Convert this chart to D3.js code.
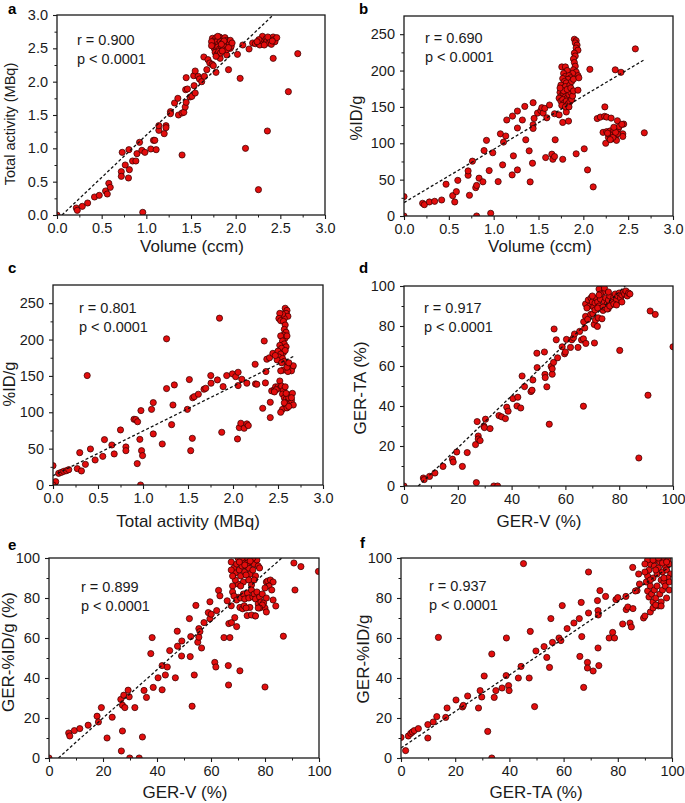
<!DOCTYPE html>
<html><head><meta charset="utf-8">
<script src="https://cdn.jsdelivr.net/npm/d3@7"></script>
<style>body{margin:0;background:#fff}svg{display:block;font-family:"Liberation Sans",Arial,sans-serif}</style>
</head><body><svg id="chart" width="685" height="803"></svg>
<script>
// ---------- tick labels ----------
const ticksMBq = [0, 0.5, 1, 1.5, 2, 2.5, 3];
const ticksIDg = [0, 50, 100, 150, 200, 250];
const ticksPct = [0, 20, 40, 60, 80, 100];

// ---------- statistics text ----------
const rValues = ["0.900", "0.690", "0.801", "0.917", "0.899", "0.937"];
const pText = "p < 0.0001";

// ---------- regression lines: [slope, intercept, xStart, xEnd] ----------
const regA = [1.269, -0.071, 0.056, 2.42];
const regB = [73.3, 18.4, 0, 2.68];
const regC = [61.4, 12.8, 0, 2.69];
const regD = [1.30, -6.9, 5.3, 82.3];
const regE = [1.209, -4.2, 3.5, 86.2];
const regF = [0.913, 5.0, 0, 99.4];

// ---------- a: Volume (ccm) vs Total activity (MBq) ----------
const pointsA = [[0,0],[0.216,0.105],[0.227,0.07],[0.283,0.13],[0.343,0.18],[0.42,0.27],[0.473,0.295],[0.544,0.36],[0.563,0.315],[0.58,0.475],[0.596,0.415],[0.72,0.65],[0.72,0.58],[0.73,0.94],[0.764,0.75],[0.80,0.555],[0.81,0.68],[0.805,0.98],[0.846,0.81],[0.883,0.81],[0.895,0.92],[0.924,1.09],[0.95,0.97],[0.984,0.94],[0.96,0.04],[1.05,0.99],[1.08,1.12],[1.095,1.12],[1.11,0.98],[1.14,1.27],[1.14,1.34],[1.20,1.22],[1.22,1.34],[1.22,1.31],[1.27,1.55],[1.27,1.52],[1.316,1.68],[1.353,1.75],[1.36,1.50],[1.40,1.53],[1.40,0.90],[1.42,1.54],[1.435,1.62],[1.44,1.88],[1.446,2.06],[1.446,1.69],[1.46,1.89],[1.49,1.77],[1.51,1.78],[1.53,2.09],[1.535,1.94],[1.547,2.16],[1.547,1.83],[1.58,2.08],[1.595,2.04],[1.62,2.00],[1.644,2.37],[1.65,2.08],[1.677,2.18],[1.69,2.33],[1.71,2.28],[1.737,2.26],[1.75,2.24],[1.78,2.14],[1.79,2.39],[1.826,2.35],[1.90,2.40],[1.92,2.18],[1.94,2.50],[2.02,2.41],[2.08,2.55],[2.05,2.05],[2.11,1.00],[2.15,2.49],[2.19,2.58],[2.255,0.38],[2.355,1.26],[2.42,2.35],[2.59,1.85],[2.695,2.42],
[1.74,2.65],[1.76,2.62],[1.78,2.66],[1.80,2.64],[1.82,2.67],[1.84,2.65],[1.86,2.63],[1.88,2.66],[1.90,2.62],[1.92,2.60],[1.75,2.58],[1.77,2.55],[1.79,2.60],[1.81,2.57],[1.83,2.60],[1.85,2.58],[1.87,2.55],[1.89,2.58],[1.91,2.55],[1.93,2.57],[1.95,2.53],[1.76,2.50],[1.78,2.47],[1.80,2.52],[1.82,2.49],[1.84,2.53],[1.86,2.50],[1.88,2.52],[1.90,2.48],[1.77,2.44],[1.79,2.41],[1.81,2.45],[1.83,2.43],[1.78,2.38],[1.85,2.46],[1.73,2.60],[1.73,2.54],[1.94,2.62],[1.96,2.58],[1.87,2.61],[1.80,2.68],[1.84,2.56],[1.92,2.51],
[2.22,2.57],[2.25,2.58],[2.27,2.55],[2.28,2.62],[2.30,2.68],[2.31,2.60],[2.33,2.57],[2.34,2.64],[2.35,2.61],[2.37,2.58],[2.38,2.65],[2.39,2.62],[2.40,2.56],[2.42,2.67],[2.43,2.63],[2.44,2.60],[2.46,2.66],[2.26,2.63],[2.36,2.67],[2.32,2.55],[2.24,2.60],[2.41,2.61]];

// ---------- b: Volume (ccm) vs %ID/g ----------
const pointsB = [[0,26.7],[0,0],[0.208,17.5],[0.227,15.6],[0.283,19.3],[0.342,20.2],[0.42,22],[0.469,43.7],[0.543,28],[0.566,19.3],[0.584,33.5],[0.60,49],[0.715,56],[0.715,62],[0.73,28.5],[0.763,75.4],[0.80,39],[0.81,42],[0.81,0],[0.837,52],[0.88,47],[0.893,90],[0.92,104],[0.95,62.5],[0.967,3.7],[0.99,87],[1.05,47.3],[1.075,113],[1.10,70.3],[1.11,101.6],[1.135,110],[1.146,132],[1.22,82.7],[1.21,137.4],[1.206,56.5],[1.265,121],[1.265,63.4],[1.265,144.3],[1.32,132],[1.347,150.7],[1.358,104.8],[1.396,89.6],[1.407,46.9],[1.433,72.6],[1.44,155.8],[1.44,125.5],[1.44,120.4],[1.451,134.2],[1.489,141.5],[1.526,144.8],[1.537,148.9],[1.552,141.5],[1.57,148],[1.58,80.4],[1.593,135],[1.623,152.6],[1.649,85],[1.66,78],[1.679,81.8],[1.679,140.6],[1.686,104.8],[1.73,139],[1.77,128.7],[1.77,78],[1.835,130.5],[1.81,143],[1.92,85.5],[2.01,92.4],[2.073,201.7],[2.047,63.4],[2.11,40],[2.155,134],[2.19,136],[2.24,150],[2.237,137],[2.26,136],[2.31,134.6],[2.356,201],[2.38,131],[2.42,197.6],[2.45,126.4],[2.44,113],[2.44,109.4],[2.58,229.8],[2.68,114.4],
[1.90,243],[1.92,241],[1.91,238],[1.93,235],[1.92,231],[1.94,228],[1.90,224],[1.91,220],[1.89,216],[1.90,211],[1.91,206],[1.89,201],[1.92,198],[1.94,193],[1.88,196],
[1.76,205],[1.80,205],[1.82,200],[1.78,196],[1.80,192],[1.84,193],[1.86,190],[1.83,188],[1.77,189],[1.79,185],[1.81,183],[1.75,180],[1.78,176],[1.80,178],[1.85,180],[1.87,185],[1.89,188],[1.95,190],
[1.74,170],[1.76,166],[1.78,168],[1.80,164],[1.82,162],[1.84,167],[1.86,170],[1.73,162],[1.75,158],[1.77,160],[1.79,156],[1.81,158],[1.83,154],[1.85,157],[1.87,160],[1.88,165],[1.76,152],[1.80,150],[1.84,150],[1.78,172],[1.82,174],[1.74,176],[1.86,176],[1.89,172],[1.94,173],
[2.22,115],[2.25,100],[2.26,116],[2.28,108],[2.29,112],[2.30,117],[2.31,110],[2.32,106],[2.33,114],[2.34,118],[2.35,110],[2.36,106],[2.37,104],[2.38,113],[2.39,120],[2.40,123],[2.43,126],[2.27,114],[2.33,108],[2.36,115],[2.30,105],[2.34,122]];

// ---------- c: Total activity (MBq) vs %ID/g ----------
const pointsC = [[0,26.6],[0.02,2.3],[0.03,4.6],[0,0],[0.063,16],[0.093,17.4],[0.12,18.8],[0.149,19.7],[0.175,21.1],[0.27,22.5],[0.297,44.5],[0.316,19.3],[0.36,28.4],[0.38,150.5],[0.416,49.5],[0.468,34.4],[0.553,39.4],[0.572,62.4],[0.654,55],[0.68,42.7],[0.75,75.7],[0.81,52.3],[0.81,47.2],[0.90,90.4],[0.92,90],[0.94,87],[0.936,29.4],[0.965,62.8],[0.977,102.3],[0.984,47.2],[0.995,40.4],[0.973,0],[1.095,104],[1.114,113.3],[1.114,70.2],[1.214,56.4],[1.262,132.6],[1.262,201],[1.318,83],[1.333,110],[1.348,137.6],[1.493,104],[1.515,145],[1.53,47.2],[1.548,64.2],[1.552,120],[1.57,121.5],[1.615,124.8],[1.678,131.7],[1.697,133],[1.756,140],[1.753,150.5],[1.827,144.5],[1.85,229.4],[1.875,72.5],[1.89,135.3],[1.93,150.5],[1.994,152.8],[2.03,149],[2.057,155],[2.057,136.7],[2.05,63.3],[2.07,78.9],[2.087,84.9],[2.098,145.4],[2.124,78],[2.154,140],[2.154,84],[2.17,81.7],[2.246,166],[2.25,139],[2.265,138.5],[2.33,105.5],[2.347,198],[2.36,140.4],[2.366,156],[2.376,173],[2.406,175],[2.414,92.7],[2.414,113.8],[2.443,181],[2.43,129.4],[2.458,130.7],[2.473,135],
[2.58,243],[2.60,240],[2.59,236],[2.61,232],[2.57,229],[2.55,235],[2.52,236],[2.51,229],[2.53,226],[2.56,225],
[2.58,220],[2.57,214],[2.59,210],[2.56,206],[2.58,202],[2.60,205],[2.53,205],[2.55,198],[2.57,194],[2.59,190],[2.52,192],[2.54,188],[2.50,184],[2.56,182],[2.58,185],[2.53,180],[2.51,176],[2.55,174],[2.57,170],[2.49,172],[2.47,178],[2.54,168],[2.56,158],[2.53,157],[2.52,143],
[2.62,165],[2.64,163],[2.66,162],[2.63,159],[2.65,157],[2.61,156],[2.67,164],[2.60,162],[2.62,168],
[2.50,135],[2.52,133],[2.54,136],[2.56,130],[2.58,135],[2.48,131],[2.46,128],[2.55,125],[2.57,120],[2.59,118],[2.61,115],[2.63,112],[2.65,116],[2.67,110],[2.62,120],[2.64,124],[2.66,126],[2.58,110],[2.55,104],[2.53,100],[2.60,106],[2.57,113],[2.62,108],[2.65,120],[2.59,126]];

// ---------- d: GER-V (%) vs GER-TA (%) ----------
const pointsD = [[0,0],[7.2,4.0],[7.5,3.2],[9.5,4.8],[11.5,6.5],[14.5,9.8],[18,13.4],[18.3,12],[19.6,17],[21.7,9.8],[23.5,16.7],[26.6,20.7],[26.9,1.7],[27.2,32.2],[27.6,25],[27.6,23.5],[28.3,22.7],[29.7,29.9],[29.9,29.2],[30.3,33.4],[32,28.7],[33.4,0],[34.8,0],[35.3,35.2],[36.3,34.6],[37.7,33.7],[38.2,39.4],[38.7,37.4],[40.5,43.7],[42,40],[42.3,44.4],[43.4,39],[43.9,55],[44.8,49.7],[47.2,47.2],[47.6,47.9],[47.9,53],[49.4,66.4],[49.5,59.2],[52.2,67],[52.4,55.8],[52.5,54.2],[53.1,49.6],[54,30.9],[54.7,59.8],[55.1,55.9],[55.1,58.6],[55.6,61.8],[55.8,78.5],[56.6,73.1],[57.1,64.1],[58.8,69.6],[59.7,66.1],[60,67],[60.4,73.3],[61.9,69.3],[62.4,73.1],[63,74.1],[63.4,76],[64.7,69.3],[65.3,77.3],[66,73],[66.7,73.6],[66.7,39.9],[66.8,82.1],[67.2,79],[67.5,84.8],[67.6,71.3],[68.3,83.3],[69.4,85.8],[70.2,86.1],[70.7,80.8],[71.2,83],[70.8,71.5],[71.9,79.8],[72.2,84.1],[73.6,83.6],[74,87.8],[75.9,88.6],[80.2,67.8],[79.6,92.5],[87.3,14],[90.7,45.4],[91.5,87.5],[93.4,85.8],[100,69.6],
[67.5,91],[68.5,93],[69,90],[69.5,94],[70,92],[70.5,89.5],[71,91.5],[71.5,94],[72,92],[72.5,90],[73,93.5],[73.5,98.5],[74,97],[74.5,92],[75,94],[75.5,91],[76,93],[76.5,95],[77,90.5],[77.5,92.5],[78,94.5],[78.5,96],[79,93],[79.5,95],[80,96.5],[80.5,94],[81,95.5],[81.5,97],[82,96],[82.5,97.5],[83,95],[83.5,96.5],[84,96],[72.5,98.5],[74.5,99],[73,96],[71,88],[72,89],[74,89.5],[75.5,88.5],[76.5,90],[68,89],[70,95],[72.5,95.5],[76,97],[78,91],[79,90.5],[81,92]];

// ---------- e: GER-V (%) vs GER-%ID/g (%) ----------
const pointsE = [[0,0],[7.3,12.5],[7.7,11],[9.4,13.7],[11.4,14.7],[14.5,16.4],[17.8,20.9],[18.3,18],[19.4,25.2],[21.5,10],[23.4,20.4],[26.6,29.3],[26.8,3.5],[27.2,13.5],[27.2,26.4],[27.7,31.4],[28.1,25.2],[29.3,33.9],[29.7,30.6],[29.9,0],[31.8,25.2],[33.4,0],[34.6,10.5],[35.2,33.8],[36.1,30.3],[37.7,52.2],[38.2,60.2],[38.6,35.3],[40.4,40.1],[41.9,46.2],[41.9,34.1],[43.1,41.5],[43.8,45.5],[44.7,53.7],[46.8,40.1],[47.5,63.4],[47.6,55.9],[49.1,51],[49.2,58.5],[52,69.7],[52.3,50.7],[52.5,60.7],[53,25.9],[53.8,41.5],[54.4,76.3],[55.1,57.9],[55.5,64.7],[55.5,60.4],[55.9,63.2],[56.5,55],[57.4,67.7],[59,72.7],[59.6,78.1],[59.6,69.6],[60.1,71.9],[61.4,47.8],[61.8,45.5],[62.1,73.7],[62.8,83.8],[63.3,81.1],[64.8,60.2],[66,78.6],[66.4,46.2],[66.5,36.5],[66.6,67.2],[67,60.2],[67.6,67.7],[67.5,76.1],[68.8,70.2],[69.5,65.7],[70.2,80.3],[70.7,75.3],[70.7,43.6],[71.7,74.6],[72.3,76.1],[73.4,71.2],[74.4,75.3],[76.3,71.1],[80,35.5],[86.8,60.9],[90.7,97.5],[91.1,84],[93.3,95.7],[99.8,93.3],
[67.5,98],[68.5,95],[69,92.5],[69.5,97],[70,100],[70.5,94],[71,91],[71.5,96],[72,99],[72.5,93],[73,96],[73.5,100],[74,95],[74.5,92],[75,98],[75.5,94],[76,97],[76.5,91],[77,99],[77.5,96],[78,95],[73,91.5],[72,88],[70,87],[68,86],[69,89],[71,86],[74,89],[75,86.5],[76,89],[68,91],[73.5,97.5],[71.5,100],[75.5,100],[67.5,94],[72.5,96.5],[70.5,98],[74.5,98.5],
[68,83],[68.5,81],[69.5,79],[71,80],[72,82],[72.5,79.5],[73.5,82.5],[74,80],[75,84],[75.5,80.5],[76,82],[76.5,79.5],[77,83],[77.5,77],[78,80.5],[78.5,78],[79,82],[79.5,77.5],[80,75],[80.5,88],[81,88.5],[82,89],[83,88],[81.5,86],[80,85],[79,76.5],[78,75],[82.5,84],[80.5,80],[83,79],[84,76],[80.5,73],[77.5,75],[75,71.5],[76.5,71],[73,75]];

// ---------- f: GER-TA (%) vs GER-%ID/g ----------
const pointsF = [[0,10.3],[1.7,3.7],[2.7,11],[3.6,12.3],[4.2,13],[4.9,13.7],[6.4,14.7],[9.9,16.7],[9.9,10],[11.9,18],[13.2,20.7],[13.8,60.3],[16.5,20.3],[17,25],[20.3,29],[22.7,25.5],[23,26.3],[24.6,31],[28.6,25],[29.2,33.7],[29.8,30.5],[30.7,41],[32,13.3],[33.5,52],[33.5,0],[34.4,30.3],[35,33.7],[37.3,35],[38.9,60],[38.8,41.2],[39.7,36.2],[39.9,33.7],[43.3,40],[44.3,45.8],[45.2,97.2],[47.3,40],[47.7,63.3],[49.3,25.7],[49.8,53.5],[52.8,55.7],[53.8,50.3],[54.8,45.3],[55.3,69.7],[55.9,57.8],[59.5,76.2],[58.3,60],[59,58.7],[61.3,64.7],[63.8,67.5],[65.8,69.7],[66,50.8],[66.5,77.8],[66.7,60.7],[67.4,35.3],[68.8,47.8],[68.8,45],[69.2,93],[69.2,72.5],[70.9,43.5],[72.5,78.7],[72.7,73.7],[72.8,71.5],[72.7,55],[73.0,46.2],[73.4,83.7],[75.5,80.8],[76.8,60],[78.1,62.8],[78.8,60],[79.3,79.2],[80,80.2],[81.8,67],[83,80.8],[83.1,74.2],[83.7,75.5],[84.5,67.5],[85,65.5],[85.5,95.3],[85.6,74.7],[87.1,83.7],[87.7,92],[88,87],[86.5,83.5],
[89.5,70],[90,71],[90.5,88],[91,91],[91.5,94],[92,97],[92.5,100],[93,90],[93.5,96],[94,99],[94.5,92],[95,95],[95.5,98],[96,89],[96.5,93],[97,100],[97.5,96],[98,94],[98.5,99],[99,97],[99.5,92],[91,83.5],[91.5,80.5],[92,86],[92.5,82],[93,78],[93.5,84],[94,80],[94.5,86],[95,76],[95.5,82],[96,78],[96.5,84],[97,88],[97.5,86],[98,80],[98.5,90],[99,84],[92,73],[93,75],[94,76.5],[96,76],[91,99],[93,99],[95,100],[90,93],[90,97],[92,89],[94,94],[96.5,97.5],[98,98],[99,88],[97,90]];

// ---------- layout (pixel positions) ----------
const panels = [
  {letter:"a", pts:pointsA, reg:regA, xd:[0,3], yd:[0,3], xt:ticksMBq, yt:ticksMBq, fmt:d3.format(".1f"), yfmt:d3.format(".1f"),
   L:57, R:325, T:15, B:215, xt_title:"Volume (ccm)", yt_title:"Total activity (MBq)", ytSize:14.5,
   xtx:192, xty:252, ytx:15, yty:124, lx:8, ly:14, tx:77, ty:45},
  {letter:"b", pts:pointsB, reg:regB, xd:[0,3], yd:[0,275], xt:ticksMBq, yt:ticksIDg, fmt:d3.format(".1f"), yfmt:d3.format("d"),
   L:404, R:673, T:16, B:216, xt_title:"Volume (ccm)", yt_title:"%ID/g", ytSize:16.5,
   xtx:540, xty:252, ytx:362, yty:118, lx:359, ly:14, tx:425, ty:43},
  {letter:"c", pts:pointsC, reg:regC, xd:[0,3], yd:[0,275], xt:ticksMBq, yt:ticksIDg, fmt:d3.format(".1f"), yfmt:d3.format("d"),
   L:53, R:323, T:285, B:485, xt_title:"Total activity (MBq)", yt_title:"%ID/g", ytSize:16.5,
   xtx:188, xty:527, ytx:15, yty:384, lx:8, ly:273, tx:79, ty:313},
  {letter:"d", pts:pointsD, reg:regD, xd:[0,100], yd:[0,100], xt:ticksPct, yt:ticksPct, fmt:d3.format("d"), yfmt:d3.format("d"),
   L:404, R:673, T:286, B:486, xt_title:"GER-V (%)", yt_title:"GER-TA (%)", ytSize:17,
   xtx:539, xty:527, ytx:366, yty:388, lx:359, ly:273, tx:424, ty:313},
  {letter:"e", pts:pointsE, reg:regE, xd:[0,100], yd:[0,100], xt:ticksPct, yt:ticksPct, fmt:d3.format("d"), yfmt:d3.format("d"),
   L:49, R:319, T:558, B:758, xt_title:"GER-V (%)", yt_title:"GER-%ID/g (%)", ytSize:17,
   xtx:185, xty:798, ytx:14, yty:652, lx:8, ly:550, tx:81, ty:592},
  {letter:"f", pts:pointsF, reg:regF, xd:[0,100], yd:[0,100], xt:ticksPct, yt:ticksPct, fmt:d3.format("d"), yfmt:d3.format("d"),
   L:401, R:672, T:558, B:758, xt_title:"GER-TA (%)", yt_title:"GER-%ID/g", ytSize:17,
   xtx:536, xty:798, ytx:369, yty:659, lx:360, ly:548, tx:429, ty:591}
];

const svg = d3.select("#chart");
const ink = "#1a1a1a";

panels.forEach((p, i) => {
  const x = d3.scaleLinear().domain(p.xd).range([p.L, p.R]);
  const y = d3.scaleLinear().domain(p.yd).range([p.B, p.T]);
  const g = svg.append("g");
  const clipId = "clip" + i;
  g.append("clipPath").attr("id", clipId).append("rect")
    .attr("x", p.L).attr("y", p.T).attr("width", p.R - p.L).attr("height", p.B - p.T);

  // minor ticks
  const mid = arr => arr.slice(0, -1).map((v, k) => (v + arr[k + 1]) / 2);
  g.append("g").attr("transform", `translate(0,${p.B})`)
    .call(d3.axisBottom(x).tickValues(mid(p.xt)).tickSize(2.5).tickFormat(""))
    .call(s => s.select(".domain").remove())
    .call(s => s.selectAll("line").attr("stroke", ink).attr("stroke-width", 1));
  g.append("g").attr("transform", `translate(${p.L},0)`)
    .call(d3.axisLeft(y).tickValues(mid(p.yt)).tickSize(2.5).tickFormat(""))
    .call(s => s.select(".domain").remove())
    .call(s => s.selectAll("line").attr("stroke", ink).attr("stroke-width", 1));

  // major axes
  const xa = g.append("g").attr("transform", `translate(0,${p.B})`)
    .call(d3.axisBottom(x).tickValues(p.xt).tickFormat(p.fmt).tickSize(4).tickPadding(3.5));
  const ya = g.append("g").attr("transform", `translate(${p.L},0)`)
    .call(d3.axisLeft(y).tickValues(p.yt).tickFormat(p.yfmt).tickSize(4).tickPadding(5));
  [xa, ya].forEach(a => {
    a.select(".domain").remove();
    a.selectAll("line").attr("stroke", ink).attr("stroke-width", 1.1);
    a.selectAll("text").attr("fill", ink).style("font-size", "14.5px")
      .style("font-family", '"Liberation Sans", Arial, sans-serif');
  });

  // points
  g.append("g").attr("clip-path", `url(#${clipId})`)
    .selectAll("circle").data(p.pts).join("circle")
    .attr("cx", d => x(d[0])).attr("cy", d => y(d[1])).attr("r", 3.1)
    .attr("fill", "#e30d0d").attr("stroke", "#3a0000").attr("stroke-width", 0.75);

  // regression line
  const [m, c0, x0, x1] = p.reg;
  g.append("line").attr("clip-path", `url(#${clipId})`)
    .attr("x1", x(x0)).attr("y1", y(m * x0 + c0))
    .attr("x2", x(x1)).attr("y2", y(m * x1 + c0))
    .attr("stroke", "#111").attr("stroke-width", 1.3).attr("stroke-dasharray", "3,2.2");

  // frame
  g.append("rect").attr("x", p.L).attr("y", p.T).attr("width", p.R - p.L).attr("height", p.B - p.T)
    .attr("fill", "none").attr("stroke", ink).attr("stroke-width", 1.3);

  // stats text
  g.append("text").attr("x", p.tx).attr("y", p.ty).attr("fill", ink).style("font-size", "14.5px")
    .text("r = " + rValues[i]);
  g.append("text").attr("x", p.tx).attr("y", p.ty + 18.5).attr("fill", ink).style("font-size", "14.5px")
    .text(pText);

  // titles
  g.append("text").attr("x", p.xtx).attr("y", p.xty).attr("text-anchor", "middle")
    .attr("fill", ink).style("font-size", "17px").text(p.xt_title);
  g.append("text").attr("transform", `translate(${p.ytx},${p.yty}) rotate(-90)`)
    .attr("text-anchor", "middle").attr("fill", ink).style("font-size", p.ytSize + "px").text(p.yt_title);

  // panel letter
  g.append("text").attr("x", p.lx).attr("y", p.ly).attr("fill", "#000")
    .style("font-size", "15px").style("font-weight", "bold").text(p.letter);
});
</script></body></html>
